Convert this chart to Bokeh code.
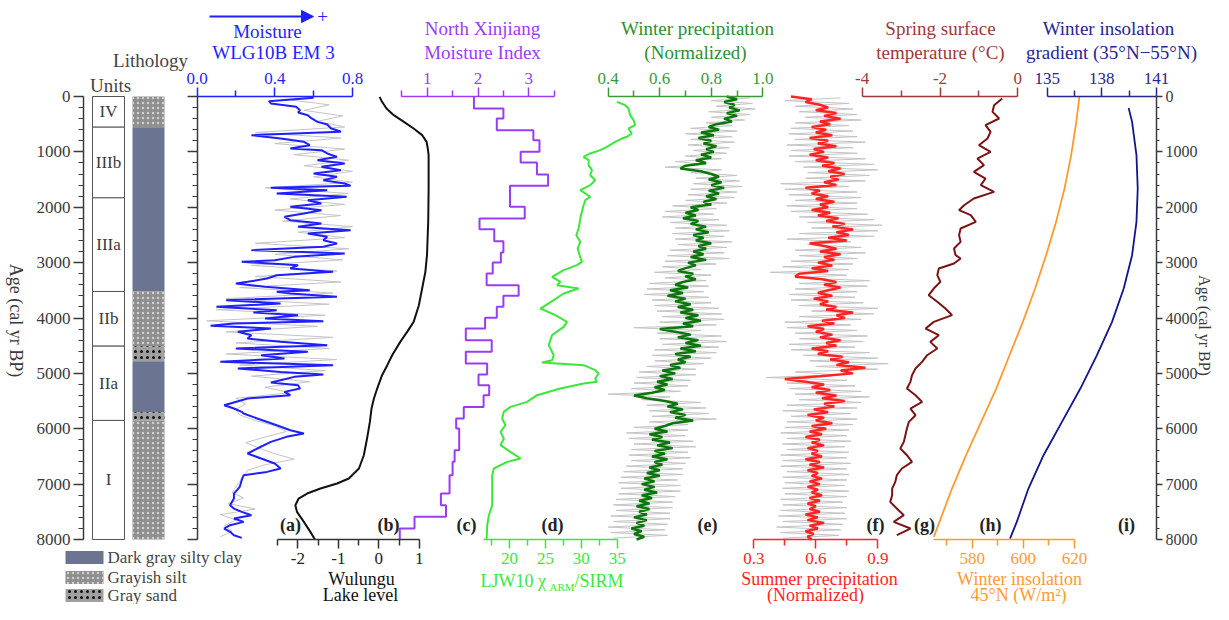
import numpy as np
from bokeh.plotting import figure
from bokeh.models import (Range1d, LinearAxis, FixedTicker, SingleIntervalTicker, Label,
                          Arrow, NormalHead, ColumnDataSource, NumeralTickFormatter,
                          CustomJSTickFormatter, Grid)
from bokeh.embed import file_html
from bokeh.resources import INLINE
from bokeh.core.properties import value

# ---------------- data (age in cal yr BP) ----------------
# (a) WLG10B EM3 moisture proxy (smoothed, blue)
em3_age = [24,84,126,187,247,289,337,397,458,506, 578,608,638,698,759,819,879,939,969,1029,
           1090,1150,1210,1270,1330,1391,1451,1511,1571,1613, 1649,1692,1752,1812,1872,1932,1993,2053,2113,2173,
           2233,2293,2354,2414,2474,2534,2595,2655,2715,2775, 2835,2896,2956,2986,3046,3106,3167,3227,3287,3347,
           3377,3437,3498,3528,3558,3618,3678,3738,3799,3859, 3901,3949,4009,4057,4100,4142,4190,4250,4310,4371,
           4431,4491,4551,4611,4672,4732,4792,4852,4912,4973, 5021,5063,5123,5165,5213,5274,5334,5394,5454,5575,
           5635,5695,5725,5815,5936,6026,6086,6146,6237,6357, 6447,6538,6628,6718,6779,6839,6929,7049,7170,7260,
           7381,7441,7501,7561,7621,7682,7742,7802,7862,7922, 7970]
em3_val = [0.60,0.37,0.38,0.51,0.53,0.52,0.57,0.59,0.62,0.67, 0.69,0.72,0.74,0.28,0.43,0.55,0.58,0.48,0.64,0.67,
           0.72,0.62,0.76,0.64,0.74,0.60,0.72,0.65,0.76,0.79, 0.38,0.67,0.41,0.77,0.57,0.64,0.48,0.64,0.55,0.45,
           0.48,0.64,0.52,0.79,0.57,0.67,0.65,0.72,0.65,0.28, 0.76,0.50,0.40,0.23,0.52,0.48,0.70,0.41,0.36,0.26,
           0.20,0.35,0.58,0.41,0.48,0.72,0.15,0.43,0.10,0.41, 0.29,0.52,0.35,0.65,0.19,0.07,0.38,0.21,0.28,0.26,
           0.43,0.67,0.20,0.57,0.33,0.45,0.12,0.70,0.21,0.43, 0.65,0.50,0.43,0.38,0.52,0.53,0.45,0.48,0.26,0.14,
           0.19,0.23,0.24,0.31,0.41,0.48,0.55,0.46,0.38,0.31, 0.26,0.33,0.40,0.43,0.36,0.24,0.23,0.22,0.19,0.19,
           0.17,0.19,0.23,0.28,0.19,0.24,0.17,0.14,0.17,0.19, 0.23]
em3_raw_age = list(range(50, 8000, 100))
em3_raw_val = [0.45,0.68,0.55,0.75,0.62,0.76,0.30,0.74,0.40,0.76,
               0.50,0.78,0.55,0.80,0.60,0.80,0.35,0.78,0.48,0.76,
               0.40,0.74,0.44,0.80,0.52,0.76,0.30,0.78,0.40,0.75,
               0.28,0.72,0.30,0.74,0.22,0.70,0.15,0.68,0.10,0.66,
               0.05,0.62,0.15,0.70,0.20,0.68,0.15,0.72,0.22,0.66,
               0.28,0.58,0.35,0.48,0.20,0.25,0.20,0.22,0.30,0.40,
               0.46,0.35,0.25,0.32,0.40,0.50,0.35,0.26,0.24,0.22,
               0.20,0.18,0.24,0.16,0.30,0.12,0.20,0.14,0.18,0.12]

# (b) Wulungu Lake level
lake_age = [6,96,217,337,458,578,698,819,939,1060,1662,2264,2866,3167,3468,3769,4070,4250,4431,4672,
            4852,5033,5274,5454,5635,5876,6177,6478,6718,6899,6989,7080,7170,7260,7381,7501,7682,7862,7995]
lake_val = [0.02,0.08,0.19,0.37,0.62,0.86,1.07,1.18,1.21,1.23,1.23,1.22,1.19,1.15,1.07,0.99,0.86,0.70,0.53,0.33,
            0.21,0.08,-0.04,-0.12,-0.18,-0.22,-0.29,-0.37,-0.49,-0.74,-1.03,-1.44,-1.77,-1.98,-2.06,-2.02,-1.85,-1.69,-1.58]

# (c) North Xinjiang moisture index (stepped)
nxj_bounds = [0,217,397,608,789,999,1192,1409,1613,1993,2203,2396,2613,2817,2998,3197,3407,3600,3799,3997,
              4190,4401,4611,4822,5021,5213,5394,5605,5815,5996,6387,6598,6839,7170,7381,7591,7802,8000]
nxj_val = [1.92,2.50,2.37,3.09,3.21,2.84,3.16,3.38,2.63,2.92,2.03,2.32,2.50,2.45,2.29,2.17,2.80,2.50,2.37,2.14,
           1.76,2.27,1.76,2.18,2.01,2.22,2.11,1.72,1.57,1.63,1.54,1.50,1.44,1.27,1.37,0.75,0.46]

# (d) LJW10 chiARM/SIRM
ljw_age = [96,157,217,337,427,518,578,668,728,759,819,909,969,1029,1090,1150,1240,1330,1421,1511,
           1601,1692,1752,1812,1872,1963,2143,2384,2504,2625,2745,2866,2986,3046,3136,3257,3347,3407,3468,3558,
           3678,3829,3949,4070,4160,4310,4491,4672,4762,4804,4852,4942,5003,5093,5153,5183,5274,5394,5514,5605,
           5695,5815,5936,6056,6177,6297,6417,6538,6598,6718,6839,7080,7381,7561,7742,8000]
ljw_val = [34.95,36.11,36.57,36.81,37.27,37.50,36.57,37.04,36.34,35.65,34.72,33.56,32.64,31.25,30.32,31.02,31.02,31.48,31.25,31.94,
           31.25,29.86,30.56,31.25,30.56,30.32,29.95,29.63,29.31,29.86,29.49,29.77,30.09,29.40,27.55,25.93,27.08,26.62,29.63,27.55,
           26.16,24.31,26.39,28.01,27.55,25.93,25.46,26.16,25.93,24.54,30.32,31.94,32.41,31.94,32.18,30.32,27.08,23.84,22.45,20.14,
           19.21,18.98,19.44,18.75,19.21,18.75,20.14,21.53,19.68,17.82,17.59,17.59,17.59,17.13,16.90,16.81]

# (e) winter precipitation (normalized)
wp_age = list(range(0, 8001, 50))
wp_val = [0.86,0.90,0.85,0.89,0.87,0.91,0.86,0.90,0.85,0.88,0.82,
          0.79,0.83,0.76,0.81,0.75,0.80,0.77,0.82,0.78,0.81,
          0.76,0.80,0.74,0.78,0.70,0.68,0.76,0.80,0.83,0.79,
          0.84,0.80,0.85,0.79,0.83,0.78,0.82,0.77,0.80,0.72,
          0.75,0.70,0.74,0.69,0.75,0.72,0.78,0.74,0.79,0.73,
          0.77,0.74,0.80,0.75,0.78,0.73,0.77,0.72,0.78,0.71,
          0.74,0.70,0.67,0.73,0.70,0.74,0.69,0.66,0.71,0.64,
          0.69,0.63,0.70,0.66,0.72,0.67,0.73,0.68,0.75,0.70,
          0.76,0.69,0.73,0.60,0.66,0.72,0.67,0.75,0.70,0.76,
          0.68,0.74,0.66,0.72,0.67,0.70,0.64,0.68,0.61,0.66,
          0.60,0.65,0.59,0.63,0.58,0.62,0.57,0.50,0.55,0.62,
          0.67,0.63,0.69,0.64,0.70,0.66,0.73,0.65,0.62,0.58,
          0.63,0.56,0.61,0.57,0.64,0.59,0.65,0.58,0.62,0.57,
          0.63,0.58,0.61,0.56,0.60,0.55,0.60,0.54,0.58,0.53,
          0.58,0.54,0.59,0.53,0.57,0.52,0.56,0.51,0.56,0.52,
          0.55,0.50,0.55,0.51,0.54,0.49,0.53,0.50,0.54,0.51]
wp_raw_age = list(range(25, 8000, 50))
wp_raw_val = [0.95,0.80,0.96,0.82,0.97,0.79,0.95,0.80,0.93,0.78,
              0.88,0.72,0.90,0.70,0.88,0.72,0.89,0.71,0.87,0.73,
              0.86,0.70,0.84,0.66,0.78,0.62,0.84,0.72,0.90,0.74,
              0.91,0.73,0.92,0.72,0.90,0.71,0.89,0.70,0.86,0.65,
              0.82,0.62,0.81,0.61,0.83,0.64,0.86,0.66,0.87,0.65,
              0.85,0.66,0.88,0.67,0.86,0.64,0.85,0.63,0.87,0.62,
              0.82,0.61,0.76,0.58,0.80,0.62,0.78,0.56,0.79,0.55,
              0.77,0.54,0.79,0.57,0.80,0.58,0.83,0.59,0.84,0.61,
              0.85,0.60,0.82,0.50,0.76,0.59,0.84,0.60,0.86,0.61,
              0.83,0.58,0.82,0.57,0.80,0.58,0.77,0.55,0.74,0.52,
              0.74,0.51,0.72,0.50,0.71,0.49,0.68,0.40,0.64,0.53,
              0.76,0.55,0.78,0.56,0.79,0.57,0.82,0.56,0.71,0.50,
              0.71,0.47,0.70,0.48,0.73,0.50,0.74,0.49,0.71,0.48,
              0.72,0.49,0.70,0.47,0.69,0.46,0.69,0.45,0.67,0.44,
              0.68,0.45,0.68,0.44,0.66,0.43,0.65,0.42,0.65,0.43,
              0.64,0.41,0.64,0.42,0.63,0.40,0.62,0.41,0.63,0.42]

# (f) summer precipitation (normalized)
sp_age = list(range(0, 8001, 50))
sp_val = [0.48,0.58,0.55,0.62,0.66,0.60,0.70,0.64,0.72,0.62,0.67,
          0.58,0.65,0.60,0.68,0.57,0.66,0.61,0.70,0.59,0.64,
          0.57,0.66,0.60,0.69,0.63,0.72,0.66,0.74,0.67,0.71,
          0.64,0.70,0.55,0.62,0.58,0.66,0.60,0.69,0.62,0.66,
          0.58,0.67,0.61,0.71,0.65,0.74,0.68,0.78,0.70,0.76,
          0.66,0.75,0.57,0.64,0.70,0.62,0.72,0.64,0.69,0.61,
          0.68,0.58,0.66,0.52,0.50,0.63,0.70,0.64,0.72,0.66,
          0.61,0.68,0.59,0.66,0.62,0.70,0.65,0.78,0.70,0.74,
          0.63,0.69,0.56,0.64,0.60,0.68,0.62,0.72,0.65,0.70,
          0.58,0.66,0.61,0.73,0.67,0.76,0.70,0.84,0.72,0.78,
          0.62,0.45,0.55,0.64,0.58,0.67,0.60,0.70,0.63,0.74,
          0.64,0.69,0.59,0.66,0.56,0.64,0.60,0.68,0.58,0.65,
          0.57,0.63,0.55,0.62,0.58,0.64,0.56,0.61,0.58,0.63,
          0.55,0.62,0.57,0.64,0.56,0.61,0.58,0.63,0.57,0.62,
          0.56,0.61,0.58,0.63,0.57,0.62,0.56,0.60,0.57,0.62,
          0.55,0.61,0.56,0.64,0.57,0.61,0.55,0.59,0.56,0.58]
sp_raw_age = list(range(25, 8000, 50))
sp_raw_val = [0.72,0.45,0.76,0.50,0.78,0.52,0.80,0.55,0.82,0.50,
              0.76,0.48,0.78,0.47,0.80,0.50,0.84,0.46,0.78,0.48,
              0.80,0.47,0.84,0.50,0.88,0.54,0.90,0.56,0.86,0.55,
              0.84,0.43,0.76,0.45,0.80,0.47,0.82,0.50,0.80,0.46,
              0.80,0.48,0.85,0.52,0.88,0.56,0.92,0.58,0.90,0.52,
              0.88,0.46,0.77,0.56,0.82,0.50,0.84,0.52,0.80,0.48,
              0.78,0.44,0.76,0.38,0.75,0.50,0.86,0.52,0.85,0.50,
              0.80,0.47,0.79,0.48,0.83,0.52,0.90,0.58,0.88,0.52,
              0.82,0.45,0.77,0.46,0.80,0.50,0.85,0.52,0.83,0.47,
              0.79,0.48,0.86,0.54,0.90,0.57,0.95,0.60,0.90,0.50,
              0.70,0.36,0.75,0.46,0.79,0.47,0.82,0.50,0.86,0.52,
              0.82,0.46,0.80,0.44,0.77,0.48,0.80,0.46,0.78,0.45,
              0.76,0.43,0.75,0.46,0.77,0.44,0.74,0.46,0.76,0.43,
              0.75,0.44,0.77,0.43,0.75,0.46,0.76,0.44,0.75,0.45,
              0.74,0.44,0.76,0.45,0.75,0.43,0.73,0.44,0.75,0.43,
              0.74,0.42,0.75,0.44,0.73,0.41,0.72,0.43,0.71,0.44]

# (g) spring surface temperature (deg C)
st_age = [36,157,277,397,518,638,758,879,999,1120,1240,1361,1481,1601,1722,1842,1963,2053,2143,2264,
          2384,2504,2625,2745,2866,2926,3016,3106,3227,3347,3468,3588,3708,3829,3949,4070,4190,4310,4431,4551,
          4672,4792,4912,5033,5153,5274,5394,5514,5635,5755,5876,5996,6116,6237,6357,6478,6598,6718,6839,6959,
          7080,7200,7320,7441,7561,7682,7802,7922]
st_val = [-0.40,-0.61,-0.65,-0.48,-0.83,-0.70,-0.78,-1.00,-0.70,-1.04,-0.87,-1.13,-0.83,-0.95,-0.61,-1.13,-1.38,-1.51,-1.21,-1.08,
          -1.47,-1.51,-1.47,-1.64,-1.60,-1.47,-1.64,-2.03,-2.07,-1.99,-2.16,-2.29,-2.07,-1.86,-1.69,-2.16,-2.37,-2.03,-2.25,-2.07,
          -2.33,-2.46,-2.63,-2.72,-2.76,-2.85,-2.63,-2.46,-2.76,-2.63,-2.80,-2.85,-2.89,-2.93,-3.02,-2.85,-2.72,-2.98,-3.11,-3.15,
          -3.23,-3.23,-3.28,-3.11,-2.93,-3.19,-2.76,-3.11]

# (h) winter insolation 45N (W/m2)
wi_age = [6,457,1060,1662,2264,2866,3468,4070,4672,5274,5876,6478,7080,7953]
wi_val = [621.9,620.7,618.7,616.1,612.8,608.9,604.6,599.8,594.6,589.4,583.5,577.6,572.1,565.0]

# (i) winter insolation gradient 35N-55N
wg_age = [205,458,1060,1662,2264,2866,3468,4070,4672,5274,5876,6478,7080,7682,7983]
wg_val = [139.47,139.66,139.90,139.97,139.90,139.66,139.20,138.56,137.73,136.82,135.81,134.80,133.97,133.33,132.96]

# lithology / units
unit_names = ["IV", "IIIb", "IIIa", "IIb", "IIa", "I"]
unit_bounds = [0, 554, 1830, 3521, 4508, 5850, 8000]
lith_bounds = [0, 554, 3521, 4508, 4779, 5700, 5850, 8000]
lith_type = ["silt", "clay", "silt", "sand", "clay", "sand", "silt"]

# ---------------- layout helpers ----------------
W, H = 1213, 604
AGE0_Y, AGE8_Y = 96, 539
SERIF = "Liberation Serif"

def prange(v1, x1, v2, x2):
    k = (v2 - v1) / (x2 - x1)
    return Range1d(v1 - x1 * k, v1 + (W - x1) * k)

ky = 8000.0 / (AGE8_Y - AGE0_Y)
y_range = Range1d(start=8000 + (H - AGE8_Y) * ky, end=-AGE0_Y * ky)

p = figure(width=W, height=H, x_range=Range1d(0, W), y_range=y_range,
           output_backend="svg", toolbar_location=None, x_axis_location=None, y_axis_location=None,
           min_border=0, outline_line_color=None, background_fill_color="white")
for r in list(p.center):
    if isinstance(r, Grid):
        r.visible = False

p.extra_y_ranges = {"py": Range1d(H, 0)}
p.extra_x_ranges = {
    "moist": prange(0.0, 196.5, 0.8, 352.0),
    "lake": prange(-2.0, 297.3, 0.0, 378.3),
    "nxj": prange(1.0, 426.7, 3.0, 528.3),
    "ljw": prange(20.0, 509.0, 35.0, 616.7),
    "wp": prange(0.4, 607.7, 1.0, 762.3),
    "sp": prange(0.3, 753.3, 0.9, 877.3),
    "st": prange(-4.0, 861.7, 0.0, 1017.3),
    "wi": prange(580.0, 971.7, 620.0, 1074.0),
    "wg": prange(135.0, 1046.7, 141.0, 1156.0),
}

BLUE = "#1f1fff"; PURPLE = "#9b3cf5"; WP_AX = "#3a9a3a"; WP_LN = "#0b760b"
LJW = "#3ae83a"; RED = "#ff2424"; BROWN_AX = "#9c3a3a"; BROWN_LN = "#7a1414"
ORANGE = "#ff9a30"; NAVY = "#26268f"; NAVY_LN = "#14148c"; GREY = "#c4c4c4"; DARK = "#3a3a3a"

def xaxis(name, bounds, ticks, minor, color, lcolor, fmt, side, loc):
    ax = LinearAxis(x_range_name=name, bounds=bounds,
                    ticker=FixedTicker(ticks=ticks, minor_ticks=minor),
                    formatter=NumeralTickFormatter(format=fmt), fixed_location=loc)
    ax.axis_line_color = color; ax.axis_line_width = 1.5
    ax.major_tick_line_color = color; ax.minor_tick_line_color = color
    ax.major_tick_line_width = 1.5; ax.minor_tick_line_width = 1.5
    ax.major_tick_out = 9; ax.major_tick_in = 0
    ax.minor_tick_out = 6; ax.minor_tick_in = 0
    ax.major_label_text_color = lcolor
    ax.major_label_text_font = SERIF
    ax.major_label_text_font_size = "17px"
    ax.major_label_standoff = 4
    p.add_layout(ax, side)

def yaxis(loc, side, labels=True, tick_out=10, size="17px"):
    fmt = NumeralTickFormatter(format="0") if labels else CustomJSTickFormatter(code="return ''")
    ax = LinearAxis(bounds=(0, 8000), ticker=SingleIntervalTicker(interval=1000, num_minor_ticks=5),
                    formatter=fmt, fixed_location=loc)
    ax.axis_line_color = DARK; ax.axis_line_width = 1.5
    ax.major_tick_line_color = DARK; ax.minor_tick_line_color = DARK
    ax.major_tick_line_width = 1.5; ax.minor_tick_line_width = 1.2
    ax.major_tick_out = tick_out; ax.major_tick_in = 0
    ax.minor_tick_out = tick_out // 2; ax.minor_tick_in = 0
    ax.major_label_text_color = DARK
    ax.major_label_text_font = SERIF
    ax.major_label_text_font_size = size
    ax.major_label_standoff = 3
    p.add_layout(ax, side)

def lab(text, x, y, size=19, color=DARK, bold=False, align="center", angle=0):
    p.add_layout(Label(x=x, y=y, y_range_name="py", text=text, text_font=SERIF,
                       text_font_size=f"{size}px", text_color=color, text_align=align,
                       text_baseline="middle", text_font_style="bold" if bold else "normal",
                       angle=angle, angle_units="deg"))

# ---------------- lithology & units ----------------
UNIT_L, UNIT_R = 92, 124
LITH_L, LITH_R = 132, 164
unit_src = ColumnDataSource(dict(top=unit_bounds[:-1], bottom=unit_bounds[1:], name=unit_names,
                                 mid=[(a + b) / 2 for a, b in zip(unit_bounds[:-1], unit_bounds[1:])]))
p.quad(left=UNIT_L, right=UNIT_R, top="top", bottom="bottom", source=unit_src,
       fill_color="white", line_color="#555555", line_width=1)
p.text(x=(UNIT_L + UNIT_R) / 2, y="mid", text="name", source=unit_src, text_font=value(SERIF),
       text_font_size="17px", text_color=DARK, text_align="center", text_baseline="middle")

LITH_STYLE = {
    "clay": dict(fill_color="#6b7592", hatch_pattern="blank", hatch_color="#6b7592"),
    "silt": dict(fill_color="#8f8f8f", hatch_pattern="dot", hatch_color="#cfcfcf", hatch_scale=5, hatch_weight=1),
    "sand": dict(fill_color="#a0a0a0", hatch_pattern="dot", hatch_color="#111111", hatch_scale=6, hatch_weight=3),
}
for i, t in enumerate(lith_type):
    p.quad(left=LITH_L, right=LITH_R, top=lith_bounds[i], bottom=lith_bounds[i + 1],
           line_color=None, **LITH_STYLE[t])

# legend swatches
for t, name, yc in [("clay", "Dark gray silty clay", 557), ("silt", "Grayish silt", 577), ("sand", "Gray sand", 595)]:
    p.quad(left=65, right=103, top=yc - 6.5, bottom=yc + 6.5, y_range_name="py", line_color=None, **LITH_STYLE[t])
    lab(name, 107, yc, size=17, color="#444444", align="left")

# ---------------- curves ----------------
p.line(em3_raw_val, em3_raw_age, x_range_name="moist", line_color=GREY, line_width=1)
p.line(em3_val, em3_age, x_range_name="moist", line_color=BLUE, line_width=2)

p.line(lake_val, lake_age, x_range_name="lake", line_color="#111111", line_width=2)

nxj_x, nxj_y = [], []
for i, v in enumerate(nxj_val):
    nxj_x += [v, v]
    nxj_y += [nxj_bounds[i], nxj_bounds[i + 1]]
p.line(nxj_x, nxj_y, x_range_name="nxj", line_color=PURPLE, line_width=2)

p.line(ljw_val, ljw_age, x_range_name="ljw", line_color=LJW, line_width=2)

p.line(wp_raw_val, wp_raw_age, x_range_name="wp", line_color=GREY, line_width=1)
p.line(wp_val, wp_age, x_range_name="wp", line_color=WP_LN, line_width=2.5)

p.line(sp_raw_val, sp_raw_age, x_range_name="sp", line_color=GREY, line_width=1)
p.line(sp_val, sp_age, x_range_name="sp", line_color=RED, line_width=2.5)

p.line(st_val, st_age, x_range_name="st", line_color=BROWN_LN, line_width=2)
p.line(wi_val, wi_age, x_range_name="wi", line_color=ORANGE, line_width=1.8)
p.line(wg_val, wg_age, x_range_name="wg", line_color=NAVY_LN, line_width=1.8)

# ---------------- axes ----------------
yaxis(83, "left", True)
yaxis(197, "left", False)
yaxis(1156, "right", True, tick_out=6, size="16px")

xaxis("moist", (0.0, 0.8), [0.0, 0.4, 0.8], [0.2, 0.6], BLUE, BLUE, "0.0", "above", 0)
xaxis("nxj", (0.5, 3.5), [1, 2, 3], [0.5, 1.5, 2.5, 3.5], PURPLE, PURPLE, "0", "above", 0)
xaxis("wp", (0.4, 1.0), [0.4, 0.6, 0.8, 1.0], [0.5, 0.7, 0.9], WP_AX, WP_AX, "0.0", "above", 0)
xaxis("st", (-4, 0), [-4, -2, 0], [-3, -1], BROWN_AX, BROWN_AX, "0", "above", 0)
xaxis("wg", (135, 141), [135, 138, 141], [136.5, 139.5], NAVY, NAVY, "0", "above", 0)

xaxis("lake", (-2.5, 1.0), [-2, -1, 0, 1], [-2.5, -1.5, -0.5, 0.5], "#333333", "#222222", "0", "below", 8000)
xaxis("ljw", (16.4, 35), [20, 25, 30, 35], [17.5, 22.5, 27.5, 32.5], LJW, LJW, "0", "below", 8000)
xaxis("sp", (0.3, 0.9), [0.3, 0.6, 0.9], [0.45, 0.75], RED, RED, "0.0", "below", 8000)
xaxis("wi", (565, 620), [580, 600, 620], [570, 590, 610], ORANGE, ORANGE, "0", "below", 8000)

# ---------------- titles ----------------
p.add_layout(Arrow(end=NormalHead(size=12, fill_color=BLUE, line_color=BLUE),
                   x_start=209, y_start=16, x_end=313, y_end=16, y_range_name="py",
                   line_color=BLUE, line_width=2))
lab("+", 322, 16, size=19, color=BLUE)
lab("Moisture", 267, 31, color=BLUE)
lab("WLG10B EM 3", 273, 52, color=BLUE)
lab("Lithology", 150, 60, color="#444444")
lab("Units", 110, 85, color="#444444")
lab("North Xinjiang", 482, 28, color=PURPLE)
lab("Moisture Index", 482, 52, color=PURPLE)
lab("Winter precipitation", 697, 28, color="#2f8f2f")
lab("(Normalized)", 695, 52, color="#2f8f2f")
lab("Spring surface", 940, 28, color=BROWN_AX)
lab("temperature (\u00b0C)", 940, 52, color=BROWN_AX)
lab("Winter insolation", 1108, 28, color=NAVY)
lab("gradient (35\u00b0N\u221255\u00b0N)", 1111, 52, color=NAVY)

lab("Wulungu", 361, 578, size=18, color="#111111")
lab("Lake level", 360, 594, size=18, color="#111111")
lab("LJW10 \u03c7", 480, 580, size=18, color=LJW, align="left")
lab("ARM", 549, 586, size=11, color=LJW, align="left")
lab("/SIRM", 574, 580, size=18, color=LJW, align="left")
lab("Summer precipitation", 819, 578, size=18, color=RED)
lab("(Normalized)", 815, 594, size=18, color=RED)
lab("Winter insolation", 1019, 578, size=18, color=ORANGE)
lab("45\u00b0N (W/m\u00b2)", 1018, 594, size=18, color=ORANGE)

lab("Age (cal yr BP)", 15, 320, size=18, color=DARK, angle=-90)
lab("Age (cal yr BP)", 1204, 325, size=16, color=DARK, angle=-90)

for t, x in [("(a)", 290), ("(b)", 388), ("(c)", 466), ("(d)", 552), ("(e)", 707),
             ("(f)", 875), ("(g)", 924), ("(h)", 990), ("(i)", 1126)]:
    lab(t, x, 524, size=18, color="#222222", bold=True)

open("out.html", "w").write(file_html(p, INLINE))
